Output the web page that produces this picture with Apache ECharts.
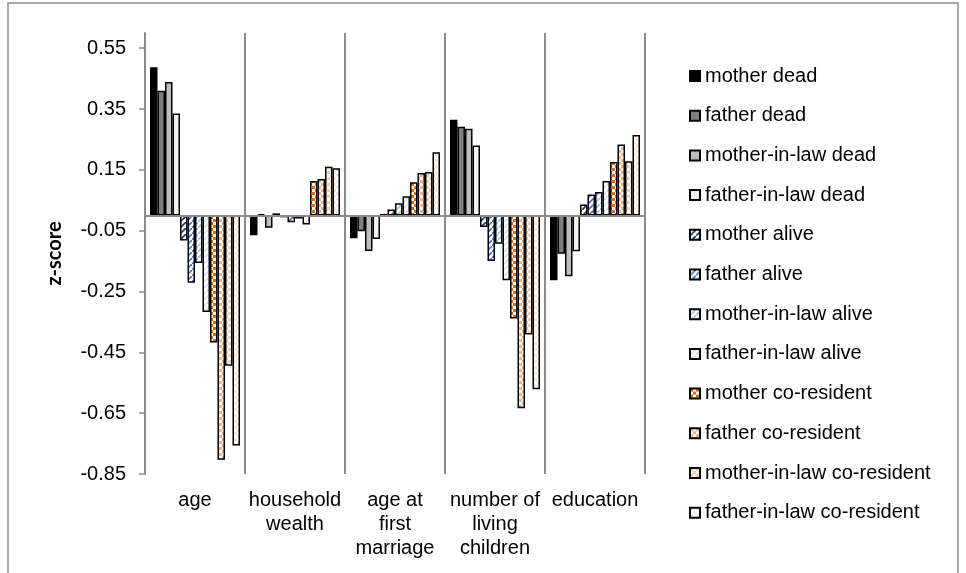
<!DOCTYPE html>
<html>
<head>
<meta charset="utf-8">
<script src="https://cdn.jsdelivr.net/npm/echarts@6/dist/echarts.min.js"></script>
<style>
  html, body { margin: 0; padding: 0; background: #fff; }
  #main { width: 966px; height: 573px; }
</style>
</head>
<body>
<div id="main"></div>
<script>
// categories along the x axis
const categories = ['age', 'household\nwealth', 'age at\nfirst\nmarriage', 'number of\nliving\nchildren', 'education'];
// y axis tick labels
const yTicks = [-0.85, -0.65, -0.45, -0.25, -0.05, 0.15, 0.35, 0.55];

// z-scores per series (age, wealth, age at marriage, children, education)
const motherDead = [0.487, -0.065, -0.075, 0.315, -0.213];
const fatherDead = [0.41, 0.004, -0.052, 0.292, -0.126];
const motherInLawDead = [0.439, -0.04, -0.117, 0.285, -0.2];
const fatherInLawDead = [0.335, 0.007, -0.077, 0.23, -0.118];
const motherAlive = [-0.082, -0.006, 0.005, -0.038, 0.036];
const fatherAlive = [-0.221, -0.022, 0.02, -0.15, 0.069];
const motherInLawAlive = [-0.156, -0.01, 0.04, -0.093, 0.077];
const fatherInLawAlive = [-0.317, -0.03, 0.063, -0.213, 0.113];
const motherCoRes = [-0.418, 0.113, 0.109, -0.339, 0.176];
const fatherCoRes = [-0.803, 0.12, 0.14, -0.634, 0.233];
const motherInLawCoRes = [-0.494, 0.16, 0.143, -0.391, 0.178];
const fatherInLawCoRes = [-0.756, 0.155, 0.208, -0.571, 0.265];

// fill patterns
function diag(color) {
  const c = document.createElement('canvas');
  c.width = 6; c.height = 6;
  const g = c.getContext('2d');
  g.fillStyle = '#fff';
  g.fillRect(0, 0, 6, 6);
  g.strokeStyle = color;
  g.lineWidth = 1.6;
  g.beginPath();
  g.moveTo(-1, 7); g.lineTo(7, -1);
  g.stroke();
  return { image: c, repeat: 'repeat' };
}
function checker(color) {
  const c = document.createElement('canvas');
  c.width = 6; c.height = 6;
  const g = c.getContext('2d');
  g.fillStyle = '#fff';
  g.fillRect(0, 0, 6, 6);
  g.fillStyle = color;
  g.fillRect(0, 0, 3, 3);
  g.fillRect(3, 3, 3, 3);
  return { image: c, repeat: 'repeat' };
}

const seriesDefs = [
  ['mother dead', motherDead, '#000000'],
  ['father dead', fatherDead, '#7f7f7f'],
  ['mother-in-law dead', motherInLawDead, '#bfbfbf'],
  ['father-in-law dead', fatherInLawDead, '#f2f2f2'],
  ['mother alive', motherAlive, diag('#1f3864')],
  ['father alive', fatherAlive, diag('#4472c4')],
  ['mother-in-law alive', motherInLawAlive, diag('#9dc3e6')],
  ['father-in-law alive', fatherInLawAlive, diag('#d6e2f3')],
  ['mother co-resident', motherCoRes, checker('#e36c09')],
  ['father co-resident', fatherCoRes, checker('#f4b183')],
  ['mother-in-law co-resident', motherInLawCoRes, checker('#f8cbad')],
  ['father-in-law co-resident', fatherInLawCoRes, checker('#fbe5d6')]
];

const font = '"Liberation Sans", Arial, sans-serif';

const series = seriesDefs.map((d, i) => {
  const s = {
    name: d[0],
    type: 'bar',
    data: d[1],
    barGap: '0%',
    barCategoryGap: '10%',
    itemStyle: { color: d[2], borderColor: '#000', borderWidth: 1.5 }
  };
  if (i === 0) {
    s.markLine = {
      silent: true,
      symbol: 'none',
      label: { show: false },
      lineStyle: { color: '#8c8c8c', width: 2, type: 'solid' },
      data: [{ yAxis: 0 }]
    };
  }
  return s;
});

const myChart = echarts.init(document.getElementById('main'));
const option = {
  animation: false,
  backgroundColor: '#fff',
  graphic: [{
    type: 'rect',
    shape: { x: 8, y: 3, width: 950, height: 620 },
    style: { fill: 'none', stroke: '#8c8c8c', lineWidth: 1.5 },
    silent: true
  }],
  grid: { left: 145, right: 321, top: 33, bottom: 99 },
  legend: {
    orient: 'vertical',
    left: 684,
    top: 61,
    itemWidth: 10,
    itemHeight: 10,
    itemGap: 19.7,
    icon: 'rect',
    textStyle: { fontFamily: font, fontSize: 20, color: '#000', lineHeight: 20 }
  },
  xAxis: {
    type: 'category',
    data: categories,
    axisLine: { show: false, onZero: false },
    axisTick: { show: false },
    splitLine: { show: true, interval: 0, lineStyle: { color: '#8c8c8c', width: 2 } },
    axisLabel: { interval: 0, margin: 14, fontFamily: font, fontSize: 20, lineHeight: 24, color: '#000' }
  },
  yAxis: {
    type: 'value',
    min: -0.85,
    max: 0.6,
    name: 'z-score',
    nameLocation: 'middle',
    nameRotate: 90,
    nameGap: 80,
    nameTextStyle: { fontFamily: 'Lato, "Open Sans", sans-serif', fontWeight: 'bold', fontSize: 20, color: '#000' },
    axisLine: { show: true, lineStyle: { color: '#8c8c8c', width: 2 } },
    axisTick: { show: true, length: 6, customValues: yTicks, lineStyle: { color: '#8c8c8c', width: 1.5 } },
    splitLine: { show: false },
    axisLabel: {
      customValues: yTicks,
      margin: 19,
      fontFamily: font,
      fontSize: 20,
      color: '#000',
      formatter: v => v.toFixed(2)
    }
  },
  series: series
};
myChart.setOption(option);
window.addEventListener('resize', function () {
  myChart.resize();
});
</script>
</body>
</html>
